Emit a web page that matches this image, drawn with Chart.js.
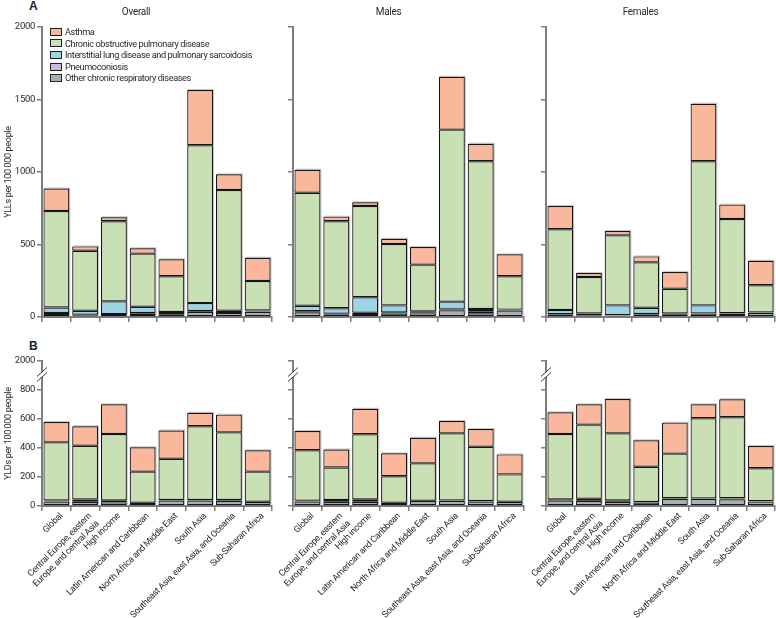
<!DOCTYPE html>
<html>
<head>
<meta charset="utf-8">
<script src="https://cdn.jsdelivr.net/npm/chart.js@4/dist/chart.umd.min.js"></script>
<style>
  body { margin: 0; background: #fff; width: 776px; height: 618px; position: relative; overflow: hidden;
         font-family: Roboto, sans-serif; color: #222; }
  .panel { position: absolute; }
  .tag { position: absolute; font: bold 12px 'Liberation Sans', Arial, sans-serif; }
  .legend { position: absolute; left: 50px; top: 26px; font-size: 9.2px; line-height: 11.6px; letter-spacing: -0.4px; color: #2a2a2a; }
  .legend div { display: flex; align-items: center; white-space: nowrap; }
  .legend span.box { width: 10px; height: 6px; border: 1px solid #222; margin-right: 3px; display: inline-block; }
</style>
</head>
<body>
<div class="tag" style="left:29px;top:-1px">A</div>
<div class="tag" style="left:29px;top:339px">B</div>

<div class="panel" style="left:0;top:0"><canvas id="yllOverall" width="276" height="325"></canvas></div>
<div class="panel" style="left:253px;top:0"><canvas id="yllMales" width="275" height="325"></canvas></div>
<div class="panel" style="left:506px;top:0"><canvas id="yllFemales" width="270" height="325"></canvas></div>
<div class="panel" style="left:0;top:340px"><canvas id="yldOverall" width="276" height="278"></canvas></div>
<div class="panel" style="left:253px;top:340px"><canvas id="yldMales" width="275" height="278"></canvas></div>
<div class="panel" style="left:506px;top:340px"><canvas id="yldFemales" width="270" height="278"></canvas></div>

<div class="legend" id="legend"></div>

<script>
  // regions (x axis) and causes, bottom of the stack first
  const REGIONS = [
    'Global',
    ['Central Europe, eastern', 'Europe, and central Asia'],
    'High income',
    'Latin American and Caribbean',
    'North Africa and Middle East',
    'South Asia',
    'Southeast Asia, east Asia, and Oceania',
    'Sub-Saharan Africa',
  ];
  const CAUSES = [
    'Other chronic respiratory diseases',
    'Pneumoconiosis',
    'Interstitial lung disease and pulmonary sarcoidosis',
    'Chronic obstructive pulmonary disease',
    'Asthma',
  ];
  const CAUSE_COLORS = ['#a8b0b4', '#cbb9dc', '#9dd4e4', '#c9dfb4', '#f9b89c'];

  // A: YLLs per 100 000
  const yllOverallOther  = [20, 12, 14, 22, 16, 36, 28, 36];
  const yllOverallPneumo = [8, 4, 6, 6, 5, 5, 6, 4];
  const yllOverallIld    = [38, 27, 88, 43, 13, 55, 9, 5];
  const yllOverallCopd   = [665, 414, 552, 366, 247, 1088, 833, 203];
  const yllOverallAsthma = [155, 30, 28, 37, 117, 382, 108, 161];

  const yllMalesOther  = [32, 18, 20, 24, 25, 46, 26, 44];
  const yllMalesPneumo = [8, 4, 10, 8, 5, 6, 14, 4];
  const yllMalesIld    = [38, 38, 106, 48, 9, 54, 16, 3];
  const yllMalesCopd   = [779, 600, 630, 423, 322, 1186, 1018, 230];
  const yllMalesAsthma = [159, 32, 25, 37, 122, 365, 121, 151];

  const yllFemalesOther  = [18, 12, 10, 18, 13, 23, 20, 29];
  const yllFemalesPneumo = [2, 2, 2, 3, 2, 2, 2, 1];
  const yllFemalesIld    = [28, 11, 68, 43, 10, 55, 4, 2];
  const yllFemalesCopd   = [557, 251, 483, 313, 170, 994, 650, 187];
  const yllFemalesAsthma = [161, 27, 30, 41, 115, 397, 99, 169];

  // B: YLDs per 100 000 (axis broken above 800)
  const yldOverallOther  = [30, 28, 25, 20, 38, 38, 35, 27];
  const yldOverallPneumo = [3, 2, 2, 1, 1, 1, 3, 1];
  const yldOverallIld    = [5, 15, 12, 2, 2, 2, 3, 2];
  const yldOverallCopd   = [401, 371, 458, 214, 285, 509, 467, 207];
  const yldOverallAsthma = [140, 134, 204, 168, 195, 93, 122, 147];

  const yldMalesOther  = [30, 28, 28, 20, 34, 36, 30, 27];
  const yldMalesPneumo = [3, 2, 2, 1, 1, 1, 2, 1];
  const yldMalesIld    = [4, 12, 16, 2, 2, 2, 2, 2];
  const yldMalesCopd   = [347, 224, 449, 182, 257, 462, 375, 188];
  const yldMalesAsthma = [133, 124, 176, 158, 177, 85, 122, 138];

  const yldFemalesOther  = [38, 35, 28, 24, 49, 49, 47, 30];
  const yldFemalesPneumo = [3, 2, 1, 2, 2, 1, 3, 1];
  const yldFemalesIld    = [5, 13, 10, 2, 2, 2, 3, 2];
  const yldFemalesCopd   = [451, 511, 462, 243, 308, 553, 559, 227];
  const yldFemalesAsthma = [149, 140, 237, 182, 214, 96, 124, 154];

  const YLL_TICKS = [0, 500, 1000, 1500, 2000];
  const YLD_TICKS = [0, 200, 400, 600, 800, 1000];
  const YLD_TICK_LABELS = ['0', '200', '400', '600', '800', '2000'];

  const AXIS = '#7d7d7d';
  const INK = '#2a2a2a';
  Chart.defaults.font.family = 'Roboto, sans-serif';
  Chart.defaults.color = INK;

  // the original typeface is narrower than Roboto, tighten the canvas text a bit
  const tightText = {
    id: 'tightText',
    afterInit(chart) { chart.ctx.letterSpacing = '-0.3px'; },
    beforeUpdate(chart) { chart.ctx.letterSpacing = '-0.3px'; },
    beforeDraw(chart) { chart.ctx.letterSpacing = '-0.3px'; },
  };

  // gray offset copy behind each stacked bar
  const barShadow = {
    id: 'barShadow',
    beforeDatasetsDraw(chart) {
      const metas = chart.getSortedVisibleDatasetMetas();
      const first = metas[0];
      const last = metas[metas.length - 1];
      const ctx = chart.ctx;
      ctx.save();
      ctx.fillStyle = 'rgba(0,0,0,0.22)';
      last.data.forEach((bar, i) => {
        const base = first.data[i].base;
        ctx.fillRect(bar.x - bar.width / 2 + 1, bar.y - 1, bar.width, base - bar.y);
      });
      ctx.restore();
    },
  };

  // "//" break on the YLD axis between 800 and the 2000 tick
  const axisBreak = {
    id: 'axisBreak',
    afterDraw(chart) {
      if (!chart.options.plugins.axisBreak?.enabled) return;
      const y = chart.scales.y;
      const x = chart.chartArea.left;
      const mid = (y.getPixelForValue(800) + y.getPixelForValue(1000)) / 2;
      const ctx = chart.ctx;
      ctx.save();
      ctx.fillStyle = '#fff';
      ctx.fillRect(x - 1.5, mid - 3.5, 3, 5);
      ctx.strokeStyle = '#333';
      ctx.lineWidth = 1;
      ctx.beginPath();
      ctx.moveTo(x - 5, mid + 1); ctx.lineTo(x + 5, mid - 8);
      ctx.moveTo(x - 5, mid + 6); ctx.lineTo(x + 5, mid - 3);
      ctx.stroke();
      ctx.restore();
    },
  };

  function makePanel(id, series, cfg) {
    const datasets = series.map((d, i) => ({
      label: CAUSES[i],
      data: d,
      backgroundColor: CAUSE_COLORS[i],
      borderColor: '#151515',
      borderWidth: 1.2,
      borderSkipped: false,
      barPercentage: 0.9,
      categoryPercentage: 1,
    }));
    return new Chart(document.getElementById(id), {
      type: 'bar',
      data: { labels: REGIONS, datasets },
      plugins: [tightText, barShadow, axisBreak],
      options: {
        responsive: false,
        animation: false,
        devicePixelRatio: 1,
        layout: { padding: { top: cfg.padTop, right: cfg.padRight, left: 0, bottom: 0 } },
        plugins: {
          legend: { display: false },
          tooltip: { enabled: false },
          title: {
            display: !!cfg.title,
            text: cfg.title,
            font: { size: 10, weight: 'normal' },
            color: INK,
            padding: { top: 4, bottom: 9 },
          },
          axisBreak: { enabled: cfg.broken },
        },
        scales: {
          x: {
            stacked: true,
            grid: { offset: true, drawOnChartArea: false, tickLength: 5, color: AXIS, lineWidth: 1.5 },
            border: { color: AXIS, width: 2 },
            ticks: {
              display: cfg.xLabels,
              autoSkip: false,
              maxRotation: 45,
              minRotation: 45,
              padding: 0,
              labelOffset: 5,
              font: { size: 9 },
              color: INK,
            },
            afterFit: (s) => { s.height = cfg.xHeight; s.paddingLeft = 0; s.paddingRight = 0; },
          },
          y: {
            stacked: true,
            min: 0,
            max: cfg.ticks[cfg.ticks.length - 1],
            afterBuildTicks: (s) => { s.ticks = cfg.ticks.map((v) => ({ value: v })); },
            grid: { drawOnChartArea: false, tickLength: 5, color: AXIS, lineWidth: 1.5 },
            border: { color: AXIS, width: 2 },
            ticks: {
              display: cfg.yLabels,
              padding: 2,
              font: { size: 9.5 },
              color: INK,
              callback: (v) => cfg.tickLabels[cfg.ticks.indexOf(v)],
            },
            title: {
              display: cfg.yLabels,
              text: cfg.yTitle,
              font: { size: 9 },
              color: INK,
              padding: { top: 3, bottom: 0 },
            },
            afterFit: (s) => { s.width = cfg.yWidth; },
          },
        },
      },
    });
  }

  const yllBase = { ticks: YLL_TICKS, tickLabels: YLL_TICKS.map(String), padTop: 2, xHeight: 8, xLabels: false,
                    broken: false, yTitle: 'YLLs per 100\u2009000 people' };
  const yldBase = { ticks: YLD_TICKS, tickLabels: YLD_TICK_LABELS, padTop: 21, xHeight: 112, xLabels: true,
                    broken: true, yTitle: 'YLDs per 100\u2009000 people' };
  const left = { yLabels: true, yWidth: 42, padRight: 4 };
  const mid = { yLabels: false, yWidth: 40, padRight: 4 };
  const right = { yLabels: false, yWidth: 40, padRight: 1 };

  makePanel('yllOverall', [yllOverallOther, yllOverallPneumo, yllOverallIld, yllOverallCopd, yllOverallAsthma],
    { ...yllBase, ...left, title: 'Overall' });
  makePanel('yllMales', [yllMalesOther, yllMalesPneumo, yllMalesIld, yllMalesCopd, yllMalesAsthma],
    { ...yllBase, ...mid, title: 'Males' });
  makePanel('yllFemales', [yllFemalesOther, yllFemalesPneumo, yllFemalesIld, yllFemalesCopd, yllFemalesAsthma],
    { ...yllBase, ...right, title: 'Females' });
  makePanel('yldOverall', [yldOverallOther, yldOverallPneumo, yldOverallIld, yldOverallCopd, yldOverallAsthma],
    { ...yldBase, ...left });
  makePanel('yldMales', [yldMalesOther, yldMalesPneumo, yldMalesIld, yldMalesCopd, yldMalesAsthma],
    { ...yldBase, ...mid });
  makePanel('yldFemales', [yldFemalesOther, yldFemalesPneumo, yldFemalesIld, yldFemalesCopd, yldFemalesAsthma],
    { ...yldBase, ...right });

  // legend, top of the stack first
  const legend = document.getElementById('legend');
  CAUSES.map((c, i) => [c, CAUSE_COLORS[i]]).reverse().forEach(([name, color]) => {
    const row = document.createElement('div');
    row.innerHTML = `<span class="box" style="background:${color}"></span>${name}`;
    legend.appendChild(row);
  });
</script>
</body>
</html>
